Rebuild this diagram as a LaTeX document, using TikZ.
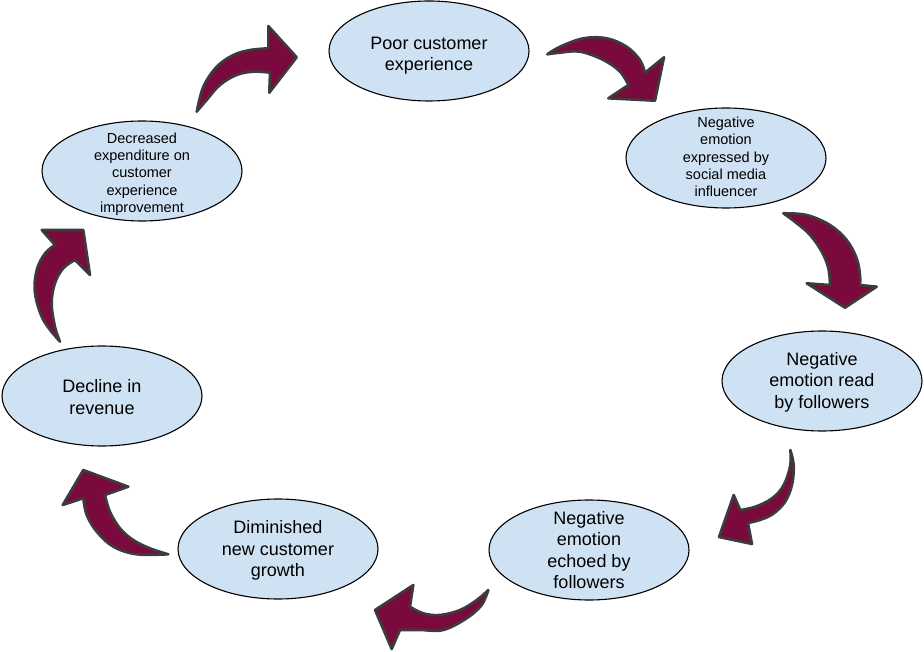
\documentclass[tikz,border=0pt]{standalone}
\usepackage{fontspec}
\setmainfont{Liberation Sans}
\usetikzlibrary{shapes.geometric}
\definecolor{bubble}{RGB}{207,226,243}
\definecolor{maroon}{RGB}{122,10,62}
\definecolor{rim}{RGB}{60,60,60}
\tikzset{
  bub/.style={ellipse, draw=black, line width=1.1pt, fill=bubble, inner sep=0pt,
    minimum width=200pt, minimum height=100pt},
  txt/.style={inner sep=0pt, align=center, font=\fontsize{18}{21.5}\selectfont},
  txtsmall/.style={txt, font=\fontsize{14.5}{17.3}\selectfont},
  arr/.style={fill=maroon, draw=rim, line width=2.6pt, line join=round},
  sm/.style={smooth, tension=0.6}
}
\begin{document}
\begin{tikzpicture}[x=1pt,y=-1pt]
\useasboundingbox (0,0) rectangle (924,652);

% ellipses
\node[bub] (poor) at (429,51) {};
\node[bub] (expr) at (726,158) {};
\node[bub] (read) at (822,381) {};
\node[bub] (echo) at (589,550) {};
\node[bub] (dimi) at (278,549) {};
\node[bub] (decl) at (102,396) {};
\node[bub] (decr) at (142,171) {};

% texts
\node[txt] (poor-t) at ([yshift=-4.5pt]poor.center) {Poor customer\\experience};
\node[txtsmall] (expr-t) at ([yshift=1pt]expr.center) {Negative\\emotion\\expressed by\\social media\\influencer};
\node[txt] (read-t) at ([yshift=-1pt]read.center) {Negative\\emotion read\\by followers};
\node[txt] (echo-t) at (echo.center) {Negative\\emotion\\echoed by\\followers};
\node[txt] (dimi-t) at ([yshift=-1.5pt]dimi.center) {Diminished\\new customer\\growth};
\node[txt] (decl-t) at ([yshift=-1pt]decl.center) {Decline in\\revenue};
\node[txtsmall] (decr-t) at ([yshift=-3pt]decr.center) {Decreased\\expenditure on\\customer\\experience\\improvement};

% arrow: poor -> expr
\filldraw[arr] plot[sm] coordinates {(547.3,54.3) (560,46.7) (583.3,38.3) (606.7,38.3) (626.7,46.7) (640,60) (645,72.7)}
  -- (664,57.3) -- (655,100.7) -- (608.3,98.3)
  -- plot[sm] coordinates {(628.3,85) (620,71.7) (603.3,60) (580,51.7) (560,52.7) (547.3,54.3)} -- cycle;

% arrow: expr -> read
\filldraw[arr] plot[sm] coordinates {(783.3,213.3) (806.7,215) (830,225) (846.7,240) (856.7,258.3) (860,275) (860,285)}
  -- (876.7,286.7) -- (845,307.7) -- (806.7,283.3)
  -- plot[sm] coordinates {(830,285) (828.3,268.3) (821.7,251.7) (810,235) (796.7,223.3) (783.3,213.3)} -- cycle;

% arrow: read -> echo
\filldraw[arr] plot[sm] coordinates {(790.3,450) (793.7,465) (792,485) (785,502) (773,514) (760,520) (748,523)}
  -- (752,544) -- (719,537) -- (733.7,495)
  -- plot[sm] coordinates {(740.3,510) (755.3,506.7) (772,498.3) (783.7,485) (790.3,465) (790.3,450)} -- cycle;

% arrow: echo -> dimi
\filldraw[arr] plot[sm] coordinates {(488.3,590) (476.7,600) (460,610) (440,615) (423.3,613.3) (410,606.7)}
  -- (413.3,585) -- (375,610) -- (391.7,649)
  -- plot[sm] coordinates {(400,630) (420,630) (443.3,630) (466.7,618.3) (481.7,605) (488.3,590)} -- cycle;

% arrow: dimi -> decl
\filldraw[arr] plot[sm] coordinates {(168.3,554.3) (150,548.3) (133.3,540) (120,528.3) (110,511.7) (105,495)}
  -- (128.3,486.7) -- (83.3,470) -- (62.7,505)
  -- plot[sm] coordinates {(83.3,498.3) (86.7,515) (96.7,531.7) (113.3,546.7) (136.7,554.3) (168.3,554.3)} -- cycle;

% arrow: decl -> decr
\filldraw[arr] plot[sm] coordinates {(60,341.7) (43.3,320) (35,293.3) (36.7,270) (45,253.3) (55,245)}
  -- (41.7,230) -- (83.3,230) -- (90,275)
  -- plot[sm] coordinates {(75,260) (63.3,268.3) (55,283.3) (51.7,303.3) (55,326.7) (60,341.7)} -- cycle;

% arrow: decr -> poor
\filldraw[arr] plot[sm] coordinates {(196.7,111.7) (203.3,86.7) (216.7,66.7) (233.3,55) (250,50) (268.3,48.3)}
  -- (268.3,26) -- (296.7,57.3) -- (269.3,92.7)
  -- plot[sm] coordinates {(270,72.7) (253.3,71.7) (236.7,75) (220,85) (206.7,100) (196.7,111.7)} -- cycle;
\end{tikzpicture}
\end{document}
